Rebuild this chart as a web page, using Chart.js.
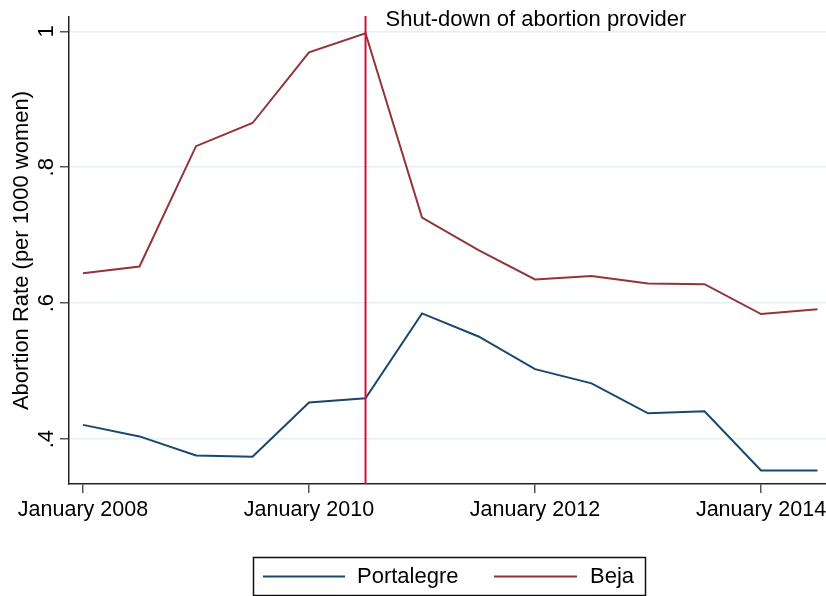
<!DOCTYPE html>
<html>
<head>
<meta charset="utf-8">
<script src="https://cdn.jsdelivr.net/npm/chart.js@4.4.1/dist/chart.umd.min.js"></script>
<style>
html, body { margin: 0; padding: 0; background: #fff; }
canvas { display: block; }
</style>
</head>
<body>
<canvas id="chart" width="826" height="596"></canvas>
<script>
/* ===== DATA ===== */
const periods = [2008, 2008.5, 2009, 2009.5, 2010, 2010.5, 2011, 2011.5, 2012, 2012.5, 2013, 2013.5, 2014, 2014.5];
const portalegre = [0.421, 0.404, 0.376, 0.374, 0.454, 0.460, 0.585, 0.551, 0.503, 0.482, 0.438, 0.441, 0.354, 0.354];
const beja = [0.644, 0.654, 0.831, 0.865, 0.969, 0.997, 0.726, 0.678, 0.635, 0.640, 0.629, 0.628, 0.584, 0.591];
const xTicks = [2008, 2010, 2012, 2014];
const yTicks = [0.4, 0.6, 0.8, 1];
const yTickLabels = ['.4', '.6', '.8', '1'];
const shutdown = 2010.5;
const shutdownLabel = 'Shut-down of abortion provider';
const yTitle = 'Abortion Rate (per 1000 women)';
const seriesNames = ['Portalegre', 'Beja'];

const FONT = "'Liberation Sans', Arial, sans-serif";
const colors = { portalegre: '#1a476f', beja: '#90353b', shut: '#d0103a', grid: '#e6eff1', axis: '#222' };

const decor = {
    id: 'decor',
    afterDraw(chart) {
        const { ctx, chartArea, scales } = chart;
        const x = scales.x, y = scales.y;
        ctx.save();
        // shut-down line
        const sx = x.getPixelForValue(shutdown);
        ctx.strokeStyle = colors.shut;
        ctx.lineWidth = 2;
        ctx.beginPath();
        ctx.moveTo(sx, chartArea.top - 1);
        ctx.lineTo(sx, chartArea.bottom);
        ctx.stroke();
        ctx.fillStyle = '#000';
        ctx.font = '22px ' + FONT;
        ctx.textAlign = 'left';
        ctx.textBaseline = 'alphabetic';
        ctx.fillText(shutdownLabel, sx + 20, 26);

        // rotated y tick labels
        yTicks.forEach((v, i) => {
            ctx.save();
            ctx.translate(53, y.getPixelForValue(v));
            ctx.rotate(-Math.PI / 2);
            ctx.textAlign = 'center';
            ctx.textBaseline = 'alphabetic';
            ctx.fillText(yTickLabels[i], 0, 0);
            ctx.restore();
        });

        // y title
        ctx.save();
        ctx.translate(28, (chartArea.top + chartArea.bottom) / 2);
        ctx.rotate(-Math.PI / 2);
        ctx.textAlign = 'center';
        ctx.textBaseline = 'alphabetic';
        ctx.fillText(yTitle, 0, 0);
        ctx.restore();

        // legend
        ctx.strokeStyle = '#111';
        ctx.lineWidth = 1.5;
        ctx.strokeRect(253.5, 557.5, 392, 38);
        ctx.lineWidth = 2;
        ctx.strokeStyle = colors.portalegre;
        ctx.beginPath(); ctx.moveTo(263, 576.5); ctx.lineTo(345, 576.5); ctx.stroke();
        ctx.strokeStyle = colors.beja;
        ctx.beginPath(); ctx.moveTo(494, 576.5); ctx.lineTo(577, 576.5); ctx.stroke();
        ctx.fillStyle = '#000';
        ctx.textBaseline = 'middle';
        ctx.fillText(seriesNames[0], 357, 577);
        ctx.fillText(seriesNames[1], 590, 577);
        ctx.restore();
    }
};

new Chart(document.getElementById('chart'), {
    type: 'line',
    data: {
        datasets: [
            { label: seriesNames[0], data: periods.map((p, i) => ({ x: p, y: portalegre[i] })), borderColor: colors.portalegre, borderWidth: 2, pointRadius: 0, tension: 0, fill: false },
            { label: seriesNames[1], data: periods.map((p, i) => ({ x: p, y: beja[i] })), borderColor: colors.beja, borderWidth: 2, pointRadius: 0, tension: 0, fill: false }
        ]
    },
    options: {
        responsive: false, animation: false,
        layout: { padding: { top: 17, right: 0, bottom: 52, left: 0 } },
        plugins: { legend: { display: false }, tooltip: { enabled: false } },
        scales: {
            x: {
                type: 'linear', min: 2007.876, max: 2014.575,
                afterBuildTicks: s => { s.ticks = xTicks.map(v => ({ value: v })); },
                afterFit: s => { s.height = 60; s.paddingLeft = 0; s.paddingRight = 0; },
                grid: { drawOnChartArea: false, drawTicks: true, tickLength: 9, tickColor: '#555', lineWidth: 1.5 },
                border: { display: true, color: colors.axis, width: 1.5 },
                ticks: { color: '#000', font: { family: FONT, size: 21.5 }, padding: 4, maxRotation: 0, autoSkip: false, callback: v => 'January ' + v }
            },
            y: {
                min: 0.334, max: 1.021,
                afterBuildTicks: s => { s.ticks = yTicks.map(v => ({ value: v })); },
                afterFit: s => { s.width = 69; s.paddingTop = 0; s.paddingBottom = 0; },
                grid: { color: colors.grid, lineWidth: 1.5, drawTicks: true, tickLength: 9, tickColor: '#555' },
                border: { display: true, color: colors.axis, width: 1.5 },
                ticks: { display: false }
            }
        }
    },
    plugins: [decor]
});
</script>
</body>
</html>
